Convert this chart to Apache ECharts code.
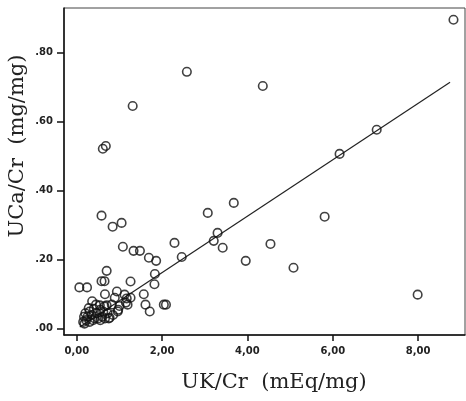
<!DOCTYPE html>
<html>
<head>
<meta charset="utf-8">
<title>UCa/Cr vs UK/Cr</title>
<script src="https://cdn.jsdelivr.net/npm/echarts@6/dist/echarts.min.js"></script>
<style>
  html, body { margin: 0; padding: 0; background: #fff; }
  #main { width: 466px; height: 401px; }
</style>
</head>
<body>
<div id="main"></div>
<script>
// UK/Cr (mEq/mg) for each patient
var ukCr = [
  8.83, 2.58, 4.36, 1.31, 0.61, 0.68, 7.03, 6.16, 3.68, 3.07,
  5.81, 3.30, 3.21, 3.42, 4.54, 3.96, 5.08, 7.99, 2.29, 2.46,
  0.58, 0.84, 1.05, 1.08, 1.33, 1.48, 1.69, 1.86, 1.83, 1.82,
  1.57, 0.70, 0.06, 0.24, 0.58, 0.65, 1.26, 0.66, 0.94, 1.12,
  1.26, 1.61, 1.71, 2.04, 2.09, 1.17, 1.19, 0.97, 1.00, 0.89,
  0.36, 0.54, 0.70, 0.82, 1.15, 0.96, 0.77, 0.30,
  0.15, 0.17, 0.20, 0.22, 0.25, 0.28, 0.30, 0.35, 0.40, 0.42,
  0.47, 0.50, 0.55, 0.60, 0.62, 0.66, 0.72, 0.75, 0.45, 0.18,
  0.55, 0.65, 0.85, 0.38
];
// UCa/Cr (mg/mg) for each patient
var ucaCr = [
  0.896, 0.745, 0.704, 0.646, 0.522, 0.530, 0.577, 0.507, 0.365, 0.336,
  0.325, 0.278, 0.255, 0.235, 0.246, 0.197, 0.177, 0.099, 0.249, 0.208,
  0.328, 0.296, 0.307, 0.238, 0.226, 0.226, 0.206, 0.197, 0.159, 0.129,
  0.100, 0.168, 0.120, 0.120, 0.138, 0.138, 0.137, 0.100, 0.108, 0.099,
  0.090, 0.070, 0.050, 0.070, 0.070, 0.088, 0.070, 0.055, 0.066, 0.090,
  0.080, 0.068, 0.068, 0.070, 0.076, 0.050, 0.032, 0.050,
  0.020, 0.035, 0.045, 0.025, 0.035, 0.060, 0.020, 0.040, 0.058, 0.030,
  0.045, 0.030, 0.055, 0.035, 0.050, 0.030, 0.045, 0.030, 0.070, 0.015,
  0.025, 0.065, 0.040, 0.025
];
// fitted line end points
var fitX = [0.07, 8.75];
var fitY = [0.005, 0.715];
var xTicks = [0, 2, 4, 6, 8];
var yTicks = [0, 0.2, 0.4, 0.6, 0.8];

var points = ukCr.map(function (x, i) { return [x, ucaCr[i]]; });
var fitLine = fitX.map(function (x, i) { return [x, fitY[i]]; });

var chart = echarts.init(document.getElementById('main'));

var tickFont = { fontFamily: 'DejaVu Sans', fontWeight: 'bold', fontSize: 10, color: '#222' };
var titleFont = '21px "DejaVu Serif", "Liberation Serif", serif';

chart.setOption({
  animation: false,
  grid: {
    left: 64, top: 8, right: 1, bottom: 66,
    show: true, borderColor: '#444', borderWidth: 1, backgroundColor: '#fff'
  },
  xAxis: {
    type: 'value', min: -0.3, max: 9.1,
    axisLine: { show: true, onZero: false, lineStyle: { color: '#111', width: 1.5 } },
    axisTick: { show: true, length: 6, customValues: xTicks, lineStyle: { color: '#111', width: 1.5 } },
    axisLabel: Object.assign({
      margin: 11, customValues: xTicks,
      formatter: function (v) { return v.toFixed(2).replace('.', ','); }
    }, tickFont),
    splitLine: { show: false }
  },
  yAxis: {
    type: 'value', min: -0.018, max: 0.93,
    axisLine: { show: true, onZero: false, lineStyle: { color: '#111', width: 1.5 } },
    axisTick: { show: true, length: 7, customValues: yTicks, lineStyle: { color: '#111', width: 1.5 } },
    axisLabel: Object.assign({
      margin: 11, customValues: yTicks,
      formatter: function (v) { return v.toFixed(2).replace(/^0/, ''); }
    }, tickFont),
    splitLine: { show: false }
  },
  series: [
    {
      type: 'line', data: fitLine, symbol: 'none',
      lineStyle: { color: '#222', width: 1.2 }, z: 1
    },
    {
      type: 'scatter', data: points, symbol: 'circle', symbolSize: 8.5,
      itemStyle: { color: 'rgba(255,255,255,0)', borderColor: '#111', borderWidth: 1.6 }, z: 2
    }
  ],
  graphic: [
    {
      type: 'text', x: 18, y: 146, rotation: Math.PI / 2,
      style: { text: 'UCa/Cr  (mg/mg)', font: titleFont, fill: '#222', align: 'center', verticalAlign: 'middle' }
    },
    {
      type: 'text', x: 274, y: 383,
      style: { text: 'UK/Cr  (mEq/mg)', font: titleFont, fill: '#222', align: 'center', verticalAlign: 'middle' }
    }
  ]
});
</script>
</body>
</html>
